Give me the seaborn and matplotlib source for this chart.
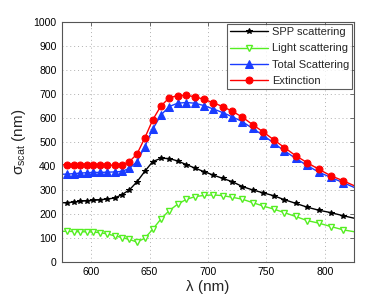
import numpy as np
import matplotlib
matplotlib.use("Agg")
import matplotlib.pyplot as plt
import seaborn as sns

# wavelength grid (nm); first and last points only carry the line to the axes edge
wavelength = [574.1, 579.4, 584.9, 590.5, 596.2, 601.9, 607.8, 613.9, 620.0, 626.3,
              632.7, 639.2, 645.8, 652.6, 659.6, 666.7, 673.9, 681.3, 688.9, 696.6,
              704.5, 712.6, 720.9, 729.4, 738.1, 747.0, 756.1, 765.4, 775.0, 784.8,
              794.9, 805.2, 815.8, 826.7]

spp_scattering = [246, 247, 249, 252, 255, 256, 259, 262, 266, 280,
                  300, 334, 377, 418, 432, 431, 421, 406, 391, 376,
                  362, 348, 334, 314, 300, 288, 276, 259, 244, 228,
                  215, 205, 192, 180]

light_scattering = [127, 127, 126, 125, 125, 124, 121, 116, 108, 101,
                    93, 82, 98, 135, 178, 213, 240, 260, 272, 277,
                    279, 276, 269, 261, 247, 233, 220, 205, 189, 172,
                    161, 147, 133, 124]

total_scattering = [365, 366, 368, 370, 372, 373, 373, 374, 375, 377,
                    390, 418, 480, 553, 612, 648, 662, 665, 662, 652,
                    638, 623, 605, 585, 557, 529, 496, 463, 432, 402,
                    374, 352, 330, 307]

extinction = [405, 405, 405, 406, 406, 405, 404, 403, 403, 404,
              418, 450, 516, 592, 650, 684, 694, 695, 689, 678,
              664, 648, 628, 604, 573, 543, 510, 477, 443, 414,
              386, 359, 338, 314]

sns.set_style("white")
plt.rcParams['font.family'] = ['Liberation Sans', 'DejaVu Sans']
plt.rcParams['mathtext.fontset'] = 'custom'
plt.rcParams['mathtext.rm'] = 'Liberation Sans'
plt.rcParams['mathtext.it'] = 'Liberation Sans:italic'

fig = plt.figure(figsize=(3.91, 2.99), dpi=100)
ax = fig.add_axes([0.1586, 0.1247, 0.7468, 0.8007])

marks = list(range(1, len(wavelength) - 1))
series = [
    ("SPP scattering", spp_scattering, dict(color="black", marker="*", markersize=4.2,
                                              markerfacecolor="black", markeredgecolor="black")),
    ("Light scattering", light_scattering, dict(color="#55ee22", marker="v", markersize=5,
                                                  markerfacecolor="white", markeredgecolor="#55ee22",
                                                  markeredgewidth=1.0)),
    ("Total Scattering", total_scattering, dict(color="#1a3cff", marker="^", markersize=5.5,
                                                  markerfacecolor="#1a3cff", markeredgecolor="#1a3cff")),
    ("Extinction", extinction, dict(color="#ff0000", marker="o", markersize=5,
                                    markerfacecolor="#ff0000", markeredgecolor="#ff0000")),
]
for name, vals, style in series:
    sns.lineplot(x=wavelength, y=vals, ax=ax, label=name, linewidth=1.0,
                 markevery=marks, **style)

ax.set_xlim(575, 825)
ax.set_ylim(0, 1000)
ax.set_xticks([600, 650, 700, 750, 800])
ax.set_yticks(np.arange(0, 1001, 100))
ax.grid(True, color="#b0b0b0", linestyle=(0, (1, 3)), linewidth=0.7)
ax.tick_params(direction="in", length=3, width=0.6, labelsize=7.5, colors="#555555",
               labelcolor="black", top=True, right=True, pad=4)
for sp in ax.spines.values():
    sp.set_color("#555555")
    sp.set_linewidth(0.8)

ax.set_xlabel("λ (nm)", fontsize=11, labelpad=2)
ax.set_ylabel("σ$_{\\rm scat}$ (nm)", fontsize=11, labelpad=4)

leg = ax.legend(loc="upper right", fontsize=8, frameon=True, fancybox=False,
                borderpad=0.3, labelspacing=0.55, handlelength=3.4, handletextpad=0.35,
                borderaxespad=0.15)
leg.get_frame().set_edgecolor("#333333")
leg.get_frame().set_linewidth(0.8)

fig.savefig("out.png", dpi=100)
